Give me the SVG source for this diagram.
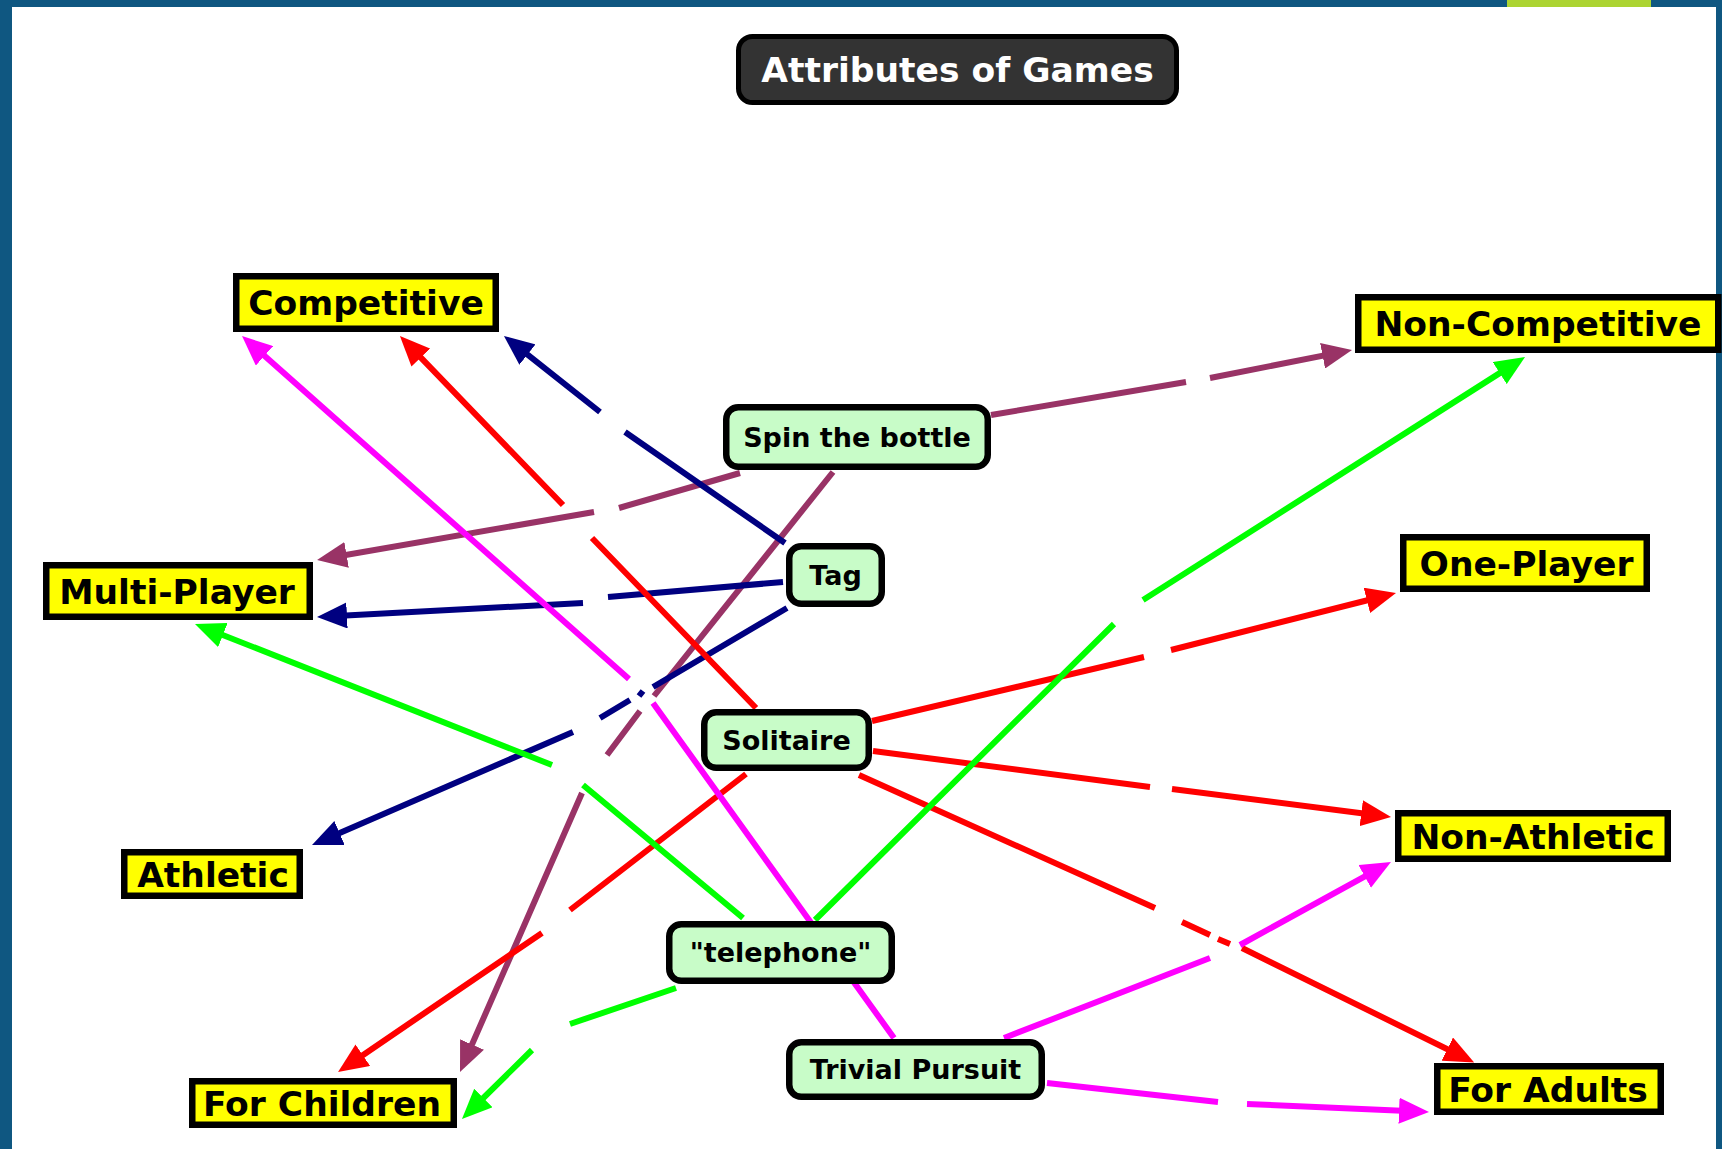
<svg xmlns="http://www.w3.org/2000/svg" width="1722" height="1149" viewBox="0 0 1722 1149">
<defs>
<style>
.frame{fill:#0f5781}
.c{fill:none;stroke-width:6;stroke-linecap:butt}
.red{stroke:#ff0000}.mag{stroke:#ff00ff}.navy{stroke:#000080}.green{stroke:#00ff00}.plum{stroke:#993366}
.attr rect{fill:#ffff00;stroke:#000;stroke-width:6.5}
.game rect{fill:#c8fcc8;stroke:#000;stroke-width:6.5}
.attr text{font-family:"DejaVu Sans","Liberation Sans",sans-serif;font-weight:bold;font-size:34.5px;fill:#000;text-anchor:middle}
.game text{font-family:"DejaVu Sans","Liberation Sans",sans-serif;font-weight:bold;font-size:27px;fill:#000;text-anchor:middle}
.title rect{fill:#333333;stroke:#000;stroke-width:5}
.title text{font-family:"DejaVu Sans","Liberation Sans",sans-serif;font-weight:bold;font-size:34.5px;fill:#fff;text-anchor:middle}
</style>
<marker id="arrRed" viewBox="0 0 30 26" refX="20" refY="13" markerWidth="30" markerHeight="26" markerUnits="userSpaceOnUse" orient="auto"><path d="M0,0 L30,13 L0,26 z" fill="#ff0000"/></marker>
<marker id="arrMag" viewBox="0 0 30 26" refX="20" refY="13" markerWidth="30" markerHeight="26" markerUnits="userSpaceOnUse" orient="auto"><path d="M0,0 L30,13 L0,26 z" fill="#ff00ff"/></marker>
<marker id="arrNavy" viewBox="0 0 30 26" refX="20" refY="13" markerWidth="30" markerHeight="26" markerUnits="userSpaceOnUse" orient="auto"><path d="M0,0 L30,13 L0,26 z" fill="#000080"/></marker>
<marker id="arrGreen" viewBox="0 0 30 26" refX="20" refY="13" markerWidth="30" markerHeight="26" markerUnits="userSpaceOnUse" orient="auto"><path d="M0,0 L30,13 L0,26 z" fill="#00ff00"/></marker>
<marker id="arrPlum" viewBox="0 0 30 26" refX="20" refY="13" markerWidth="30" markerHeight="26" markerUnits="userSpaceOnUse" orient="auto"><path d="M0,0 L30,13 L0,26 z" fill="#993366"/></marker>
</defs>
<rect x="0" y="0" width="1722" height="1149" fill="#ffffff"/>
<g id="frame">
<rect class="frame" x="0" y="0" width="1722" height="7"/>
<rect class="frame" x="0" y="0" width="12" height="1149"/>
<rect class="frame" x="1716" y="0" width="6" height="1149"/>
<rect x="1507" y="0" width="144" height="7" fill="#acd432"/>
</g>
<g id="connectors">
<path id="spin-noncomp" class="c plum" d="M991,415 L1186,382 M1210,378 L1342.2,351.9" marker-end="url(#arrPlum)"/>
<path id="spin-multi" class="c plum" d="M740,473 L619,508 M594,512 L326.9,558.3" marker-end="url(#arrPlum)"/>
<path id="spin-children" class="c plum" d="M833,472 L654,696 M640,711 L607,755 M582,793 L464,1062.8" marker-end="url(#arrPlum)"/>
<path id="tag-comp" class="c navy" d="M785,543 L625,432 M600,412 L511.8,342.2" marker-end="url(#arrNavy)"/>
<path id="tag-multi" class="c navy" d="M783,582 L608,597 M583,603 L327,616.5" marker-end="url(#arrNavy)"/>
<path id="tag-athletic" class="c navy" d="M787,608 L653,687 M643,691 L639,696 M630,700 L600,718 M573,732 L321.2,841" marker-end="url(#arrNavy)"/>
<path id="sol-comp" class="c red" d="M756,708 L592,538 M563,505 L406.9,343.2" marker-end="url(#arrRed)"/>
<path id="sol-one" class="c red" d="M872,721 L1144,657 M1171,650 L1386.3,595.5" marker-end="url(#arrRed)"/>
<path id="sol-nonath" class="c red" d="M873,751 L1150,787 M1172,789 L1381.1,815.7" marker-end="url(#arrRed)"/>
<path id="sol-adults" class="c red" d="M859,775 L1155,908 M1182,922 L1210,935 M1218,939 L1230,944 M1242,948 L1465.2,1058" marker-end="url(#arrRed)"/>
<path id="sol-children" class="c red" d="M746,774 L570,910 M542,933 L346.3,1066.4" marker-end="url(#arrRed)"/>
<path id="tel-multi" class="c green" d="M743,918 L583,785 M552,765 L204.3,627.7" marker-end="url(#arrGreen)"/>
<path id="tel-noncomp" class="c green" d="M815,920 L1114,624 M1143,600 L1516.6,362.4" marker-end="url(#arrGreen)"/>
<path id="tel-children" class="c green" d="M676,988 L570,1024 M532,1050 L469.1,1112" marker-end="url(#arrGreen)"/>
<path id="triv-comp" class="c mag" d="M894,1038 L653,703 M629,679 L249.5,342.6" marker-end="url(#arrMag)"/>
<path id="triv-nonath" class="c mag" d="M1004,1038 L1210,958 M1240,945 L1382.2,866.8" marker-end="url(#arrMag)"/>
<path id="triv-adults" class="c mag" d="M1047,1083 L1218,1102 M1247,1104 L1419,1111.6" marker-end="url(#arrMag)"/>
</g>
<g id="title" class="title">
<rect x="738.5" y="36.5" width="438" height="66" rx="14"/>
<text x="957.5" y="82">Attributes of Games</text>
</g>
<g id="competitive" class="attr"><rect x="236.25" y="276.25" width="259.5" height="52.5"/><text x="366" y="315">Competitive</text></g>
<g id="non-competitive" class="attr"><rect x="1358.25" y="297.25" width="360" height="52.5"/><text x="1538" y="336">Non-Competitive</text></g>
<g id="multi-player" class="attr"><rect x="46.25" y="565.25" width="263.5" height="51.5"/><text x="177" y="603.5">Multi-Player</text></g>
<g id="one-player" class="attr"><rect x="1403.25" y="537.25" width="243.5" height="51.5"/><text x="1526.5" y="575.5">One-Player</text></g>
<g id="athletic" class="attr"><rect x="124.25" y="852.25" width="175.5" height="43.5"/><text x="213" y="886.5">Athletic</text></g>
<g id="non-athletic" class="attr"><rect x="1398.25" y="813.25" width="269.5" height="45.5"/><text x="1533" y="848.5">Non-Athletic</text></g>
<g id="for-children" class="attr"><rect x="192.25" y="1081.25" width="261.5" height="43.5"/><text x="322" y="1115.5">For Children</text></g>
<g id="for-adults" class="attr"><rect x="1437.25" y="1066.25" width="223.5" height="45.5"/><text x="1548" y="1101.5">For Adults</text></g>
<g id="spin-the-bottle" class="game"><rect x="726.25" y="407.25" width="261.5" height="59.5" rx="12"/><text x="857" y="447">Spin the bottle</text></g>
<g id="tag" class="game"><rect x="789.25" y="546.25" width="92.5" height="57.5" rx="12"/><text x="835.5" y="585">Tag</text></g>
<g id="solitaire" class="game"><rect x="704.25" y="712.25" width="164.5" height="55.5" rx="12"/><text x="786.5" y="750">Solitaire</text></g>
<g id="telephone" class="game"><rect x="669.25" y="924.25" width="222.5" height="56.5" rx="12"/><text x="780.5" y="962">"telephone"</text></g>
<g id="trivial-pursuit" class="game"><rect x="789.25" y="1042.25" width="252.5" height="54.5" rx="12"/><text x="915.5" y="1079">Trivial Pursuit</text></g>
</svg>
